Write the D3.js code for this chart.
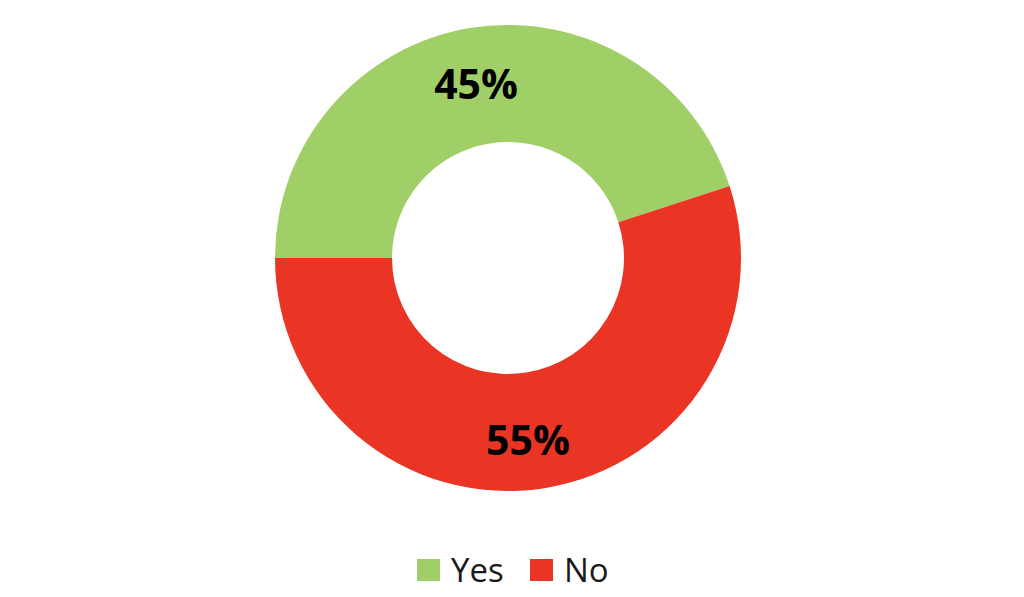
<!DOCTYPE html>
<html><head><meta charset="utf-8">
<script src="https://cdn.jsdelivr.net/npm/d3@7"></script>
<style>html,body{margin:0;padding:0;background:#fff;}</style>
</head><body>
<svg id="chart" width="1024" height="597"></svg>
<script>
const categories = ["Yes", "No"];
const values = [45, 55];
const labels = ["45%", "55%"];
const colors = ["#A0CF67", "#EA3424"];

const svg = d3.select("#chart");
const cx = 508, cy = 258, outerR = 233, innerR = 116;
const g = svg.append("g").attr("transform", `translate(${cx},${cy})`);

const pie = d3.pie().sort(null).startAngle(-Math.PI / 2).endAngle(3 * Math.PI / 2);
const arcs = pie(values);
const arc = d3.arc().innerRadius(innerR).outerRadius(outerR);
const color = d3.scaleOrdinal().domain(categories).range(colors);

g.selectAll("path").data(arcs).enter().append("path")
  .attr("d", arc)
  .attr("fill", (d, i) => color(categories[i]));

const labelArc = d3.arc().innerRadius(innerR + 4).outerRadius(outerR + 4);
const nudge = [[-4, 1], [-8, 5]];
g.selectAll("text.lbl").data(arcs).enter().append("text")
  .attr("class", "lbl")
  .attr("transform", (d, i) => { const c = labelArc.centroid(d); return `translate(${c[0] + nudge[i][0]},${c[1] + nudge[i][1]})`; })
  .attr("text-anchor", "middle")
  .attr("dominant-baseline", "central")
  .attr("font-family", "Open Sans, sans-serif")
  .attr("font-weight", "bold")
  .attr("font-size", 41)
  .attr("fill", "#000")
  .text((d, i) => labels[i]);

// legend
const legend = svg.append("g");
const legendX = [417, 530];
categories.forEach((c, i) => {
  const lg = legend.append("g").attr("transform", `translate(${legendX[i]},559)`);
  lg.append("rect").attr("width", 23).attr("height", 22).attr("fill", color(c));
  lg.append("text").attr("x", 34).attr("y", 23)
    .attr("font-family", "Open Sans, sans-serif")
    .attr("font-size", 33)
    .attr("fill", "#1a1a1a")
    .text(c);
});
</script>
</body></html>
